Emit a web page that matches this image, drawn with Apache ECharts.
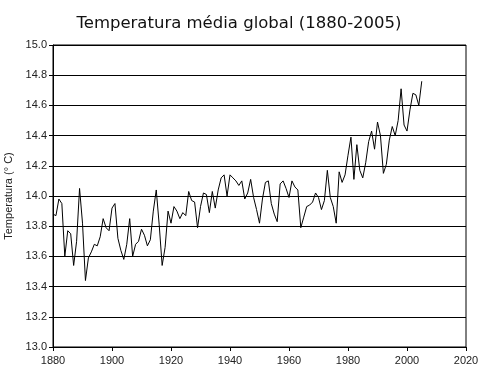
<!DOCTYPE html>
<html>
<head>
<meta charset="utf-8">
<script src="https://cdn.jsdelivr.net/npm/echarts@6/dist/echarts.min.js"></script>
<style>
  html, body { margin: 0; padding: 0; background: #fff; }
  #chart { width: 480px; height: 375px; }
</style>
</head>
<body>
<div id="chart"></div>
<script>
// anos 1880..2005
const startYear = 1880
const temps = [
  13.88, 13.87, 13.98, 13.95, 13.60, 13.77, 13.75, 13.54, 13.70, 14.05,
  13.82, 13.44, 13.59, 13.63, 13.68, 13.67, 13.73, 13.85, 13.79, 13.77,
  13.92, 13.95, 13.72, 13.64, 13.58, 13.68, 13.85, 13.60, 13.68, 13.70,
  13.78, 13.74, 13.67, 13.71, 13.90, 14.04, 13.81, 13.54, 13.66, 13.90,
  13.82, 13.93, 13.90, 13.85, 13.89, 13.87, 14.03, 13.97, 13.96, 13.79,
  13.93, 14.02, 14.01, 13.89, 14.03, 13.92, 14.04, 14.12, 14.14, 14.00,
  14.14, 14.12, 14.10, 14.07, 14.10, 13.98, 14.02, 14.11, 13.99, 13.91,
  13.82, 13.98, 14.09, 14.10, 13.95, 13.88, 13.83, 14.08, 14.10, 14.05,
  13.99, 14.10, 14.06, 14.04, 13.79, 13.86, 13.93, 13.94, 13.96, 14.02,
  13.99, 13.91, 13.97, 14.17, 13.99, 13.93, 13.82, 14.16, 14.09, 14.14,
  14.27, 14.39, 14.11, 14.34, 14.17, 14.12, 14.22, 14.36, 14.43, 14.31,
  14.49, 14.40, 14.15, 14.21, 14.37, 14.46, 14.40, 14.50, 14.71, 14.47,
  14.43, 14.57, 14.68, 14.67, 14.60, 14.76
]
const years = temps.map((_, i) => startYear + i)

const chart = echarts.init(document.getElementById('chart'))

const option = {
  backgroundColor: '#fff',
  animation: false,
  title: {
    text: 'Temperatura média global (1880-2005)',
    left: 234,
    textAlign: 'center',
    top: 10,
    textStyle: {
      fontFamily: 'DejaVu Sans',
      fontSize: 16.5,
      fontWeight: 'normal',
      color: '#111'
    }
  },
  grid: {
    left: 53,
    right: 14,
    top: 45,
    bottom: 28,
    containLabel: false,
    outerBoundsMode: 'none',
    show: true,
    borderColor: '#000',
    borderWidth: 1
  },
  xAxis: {
    type: 'value',
    min: 1880,
    max: 2020,
    interval: 20,
    axisLine: { lineStyle: { color: '#000' } },
    axisTick: { show: true, length: 4, lineStyle: { color: '#000' } },
    axisLabel: {
      color: '#222',
      fontFamily: 'Liberation Sans',
      fontSize: 11,
      margin: 8,
      formatter: v => String(v)
    },
    splitLine: { show: false }
  },
  yAxis: {
    type: 'value',
    min: 13.0,
    max: 15.0,
    interval: 0.2,
    name: 'Temperatura (° C)',
    nameLocation: 'middle',
    nameGap: 38,
    nameTextStyle: {
      color: '#222',
      fontFamily: 'Liberation Sans',
      fontSize: 11
    },
    axisLine: { show: true, lineStyle: { color: '#000' } },
    axisTick: { show: true, length: 4, lineStyle: { color: '#000' } },
    axisLabel: {
      color: '#222',
      fontFamily: 'Liberation Sans',
      fontSize: 11,
      margin: 6,
      formatter: v => v.toFixed(1)
    },
    splitLine: { show: true, lineStyle: { color: '#000', width: 1 } }
  },
  series: [
    {
      type: 'line',
      data: years.map((y, i) => [y, temps[i]]),
      showSymbol: false,
      lineStyle: { color: '#000', width: 1 }
    }
  ]
}

chart.setOption(option)
</script>
</body>
</html>
